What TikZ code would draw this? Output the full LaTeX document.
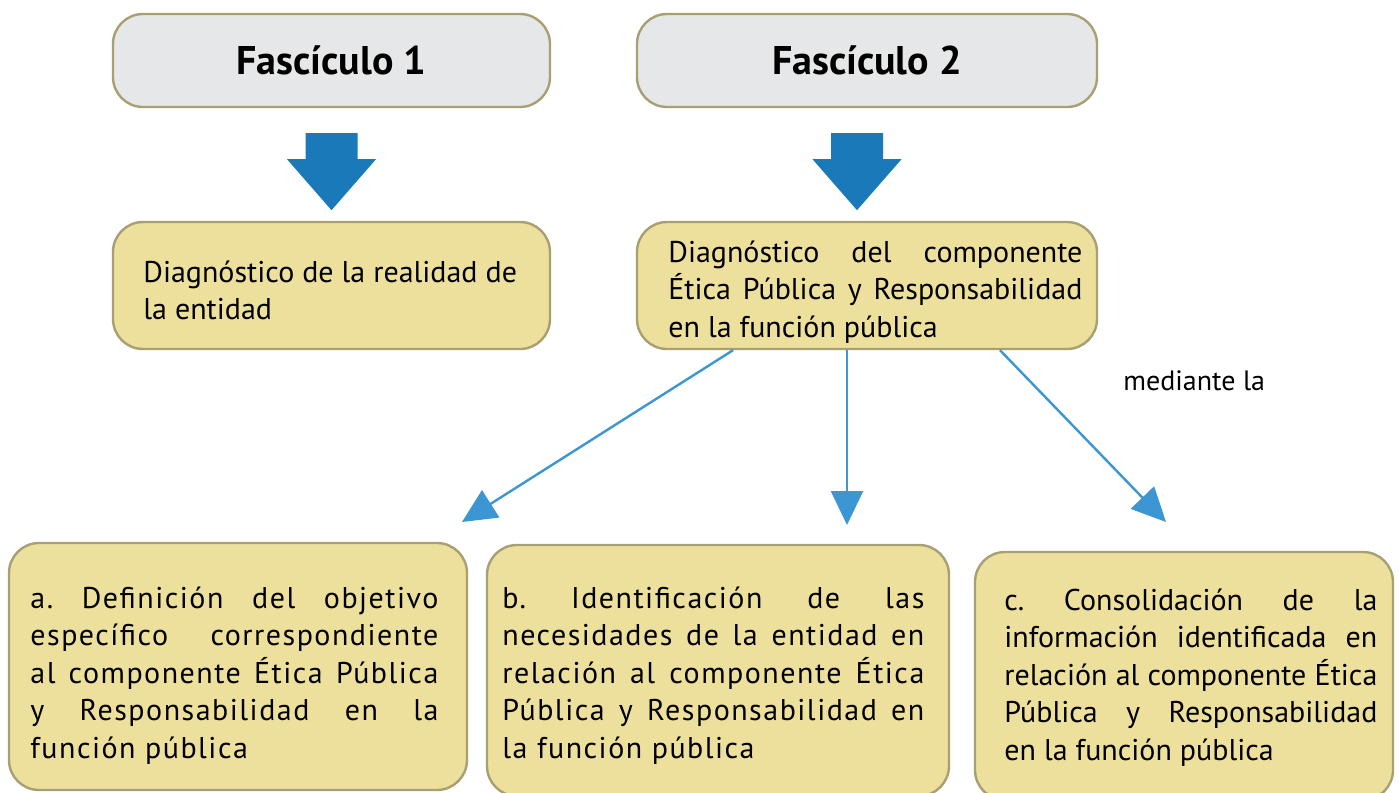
\documentclass[tikz,border=0pt]{standalone}
\usepackage{fontspec}
\setmainfont{PT Sans}
\frenchspacing
\usetikzlibrary{arrows.meta, calc}

\definecolor{boxfill}{HTML}{EDE09D}
\definecolor{headfill}{HTML}{E6E7E8}
\definecolor{boxline}{HTML}{A89F72}
\definecolor{darkblue}{HTML}{1A7AB9}
\definecolor{lightblue}{HTML}{3C96D4}

\newcommand{\fillline}[1]{\makebox[\hsize][s]{#1}}

\tikzset{
  fascbox/.style={draw=boxline, line width=1.2pt, fill=headfill, rounded corners=15pt,
    font=\bfseries\fontsize{20}{24}\selectfont},
  stagebox/.style={draw=boxline, line width=1.2pt, fill=boxfill, rounded corners=15pt},
  stagetext/.style={anchor=base west, inner sep=0pt, align=justify,
    font=\fontsize{15}{18.75}\selectfont},
  spaced/.style={font=\fontsize{15}{18.75}\selectfont\addfontfeatures{LetterSpace=5}},
  linkarrow/.style={-{Triangle[length=17pt, width=16pt]}, lightblue, line width=1.2pt},
  bigarrow/.pic={\fill[darkblue] (-26,0) -- (26,0) -- (26,26) -- (44.5,26) -- (0,77)
    -- (-44.5,26) -- (-26,26) -- cycle;}
}

\begin{document}
\begin{tikzpicture}[x=0.5pt, y=-0.5pt]
  \useasboundingbox (0,0) rectangle (1399,793);
  \clip (0,0) rectangle (1399,793);

  % fasciculos
  \node[fascbox, minimum width=218.5pt, minimum height=46.5pt] (f1) at (331.5,60.5) {Fascículo 1};
  \node[fascbox, minimum width=230pt, minimum height=46.5pt] (f2) at (867,60.5) {Fascículo 2};

  \pic at ($(f1.south)+(0,25)$) {bigarrow};
  \pic at ($(f2.south)+(-10,25)$) {bigarrow};

  % diagnosticos
  \node[stagebox, minimum width=218.5pt, minimum height=63.5pt] (d1) at (331.5,285.5) {};
  \node[stagebox, minimum width=230pt, minimum height=63.5pt] (d2) at (867,285.5) {};
  \node[stagetext, text width=195pt] (d1txt) at (143,282) {Diagnóstico de la realidad de\\la entidad};
  \node[stagetext, text width=207pt] (d2txt) at (668,262) {%
    \fillline{Diagnóstico del componente}\\
    \fillline{Ética Pública y Responsabilidad}\\
    en la función pública};

  % pasos
  \node[stagebox, minimum width=229pt, minimum height=123.5pt] (a) at (238,666.5) {};
  \node[stagebox, minimum width=231pt, minimum height=125.5pt] (b) at (718,670.5) {};
  \node[stagebox, minimum width=209pt, minimum height=124pt] (c) at (1184,676) {};

  \node[stagetext, spaced, text width=204pt] (atxt) at (30,608) {%
    \fillline{a. Definición del objetivo}\\
    \fillline{específico correspondiente}\\
    \fillline{al componente Ética Pública}\\
    \fillline{y Responsabilidad en la}\\
    función pública};
  \node[stagetext, spaced, text width=211pt] (btxt) at (502,608) {%
    \fillline{b. Identificación de las}\\
    \fillline{necesidades de la entidad en}\\
    \fillline{relación al componente Ética}\\
    \fillline{Pública y Responsabilidad en}\\
    la función pública};
  \node[stagetext, text width=186.5pt] (ctxt) at (1004,610) {%
    \fillline{c. Consolidación de la}\\
    \fillline{información identificada en}\\
    \fillline{relación al componente Ética}\\
    \fillline{Pública y Responsabilidad}\\
    en la función pública};

  % flechas
  \coordinate (ta) at (462,522);
  \coordinate (tb) at (847,525);
  \coordinate (tc) at (1166,522);
  \draw[linkarrow] ($(d2.south)+(-134,0)$) -- (ta);
  \draw[linkarrow] ($(d2.south)+(-20,0)$) -- (tb);
  \draw[linkarrow] ($(d2.south)+(133,0)$) -- (tc);
  \node[stagetext, font=\fontsize{14}{18}\selectfont] (med) at (1123,390) {mediante la};
\end{tikzpicture}
\end{document}
